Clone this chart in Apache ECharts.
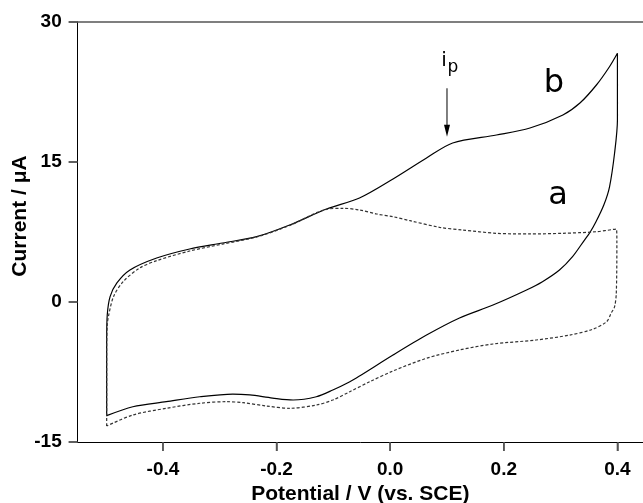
<!DOCTYPE html>
<html>
<head>
<meta charset="UTF-8">
<title>Cyclic voltammogram</title>
<script src="https://cdn.jsdelivr.net/npm/echarts@6/dist/echarts.min.js"></script>
<style>
    html, body { margin: 0; padding: 0; background: #fff; }
    #chart { width: 643px; height: 503px; }
</style>
</head>
<body>
<div id="chart"></div>
<script>
    // tick values
    var xTicks = [-0.4, -0.2, 0.0, 0.2, 0.4];
    var yTicks = [-15, 0, 15, 30];

    // curve b (solid): potential / current, one closed loop
    var potentialB = [-0.499, -0.499, -0.498, -0.493, -0.481, -0.458, -0.411, -0.353, -0.295, -0.235,
        -0.177, -0.112, -0.054, 0.005, 0.064, 0.110, 0.187, 0.246, 0.304, 0.334, 0.363, 0.386, 0.400,
        0.400, 0.395, 0.386, 0.376, 0.362, 0.351, 0.342, 0.321, 0.298, 0.268, 0.240, 0.181, 0.122, 0.064, 0.005,
        -0.054, -0.071, -0.101, -0.130, -0.171, -0.207, -0.247, -0.277, -0.335, -0.394, -0.453, -0.499];
    var currentB = [-12.18, -4.07, -1.39, 0.57, 2.04, 3.43, 4.71, 5.68, 6.32, 7.00,
        8.25, 9.96, 11.14, 13.18, 15.43, 17.04, 17.89, 18.64, 20.04, 21.32, 23.25, 25.21, 26.65,
        19.5, 15.96, 12.32, 10.39, 8.57, 7.39, 6.64, 4.86, 3.43, 2.18, 1.29, -0.32, -1.71, -3.54, -5.68,
        -7.93, -8.54, -9.43, -10.15, -10.50, -10.29, -9.96, -9.86, -10.15, -10.68, -11.22, -12.18];

    // curve a (dashed)
    var potentialA = [-0.499, -0.499, -0.498, -0.496, -0.487, -0.470, -0.441, -0.411, -0.353, -0.295,
        -0.235, -0.177, -0.112, -0.083, -0.054, -0.024, 0.005, 0.035, 0.087, 0.128, 0.187, 0.246,
        0.304, 0.363, 0.398, 0.399, 0.398, 0.395, 0.389, 0.381, 0.356, 0.316, 0.257, 0.181, 0.122,
        0.064, 0.005, -0.036, -0.071, -0.101, -0.130, -0.177, -0.218, -0.259, -0.288, -0.335, -0.394,
        -0.453, -0.499];
    var currentA = [-13.29, -5.14, -2.46, -1.57, 0.57, 2.18, 3.64, 4.43, 5.46, 6.21,
        6.96, 8.20, 9.93, 10.04, 9.86, 9.43, 9.14, 8.71, 8.00, 7.71, 7.36, 7.29,
        7.36, 7.53, 7.82, 6.64, 0.96, -0.50, -1.18, -2.11, -2.93, -3.54, -4.07, -4.50, -5.14,
        -6.03, -7.39, -8.54, -9.61, -10.50, -11.04, -11.39, -11.14, -10.79, -10.68, -10.85, -11.39,
        -12.11, -13.29];

    // ip arrow (data coords)
    var arrowFrom = [0.1, 22.9];
    var arrowTo = [0.1, 17.7];

    function pairs(xs, ys) {
        var out = [];
        for (var i = 0; i < xs.length; i++) out.push([xs[i], ys[i]]);
        return out;
    }

    var labelFont = { fontFamily: 'Liberation Sans, Arial, sans-serif', fontWeight: 'bold', fontSize: 19, color: '#000' };

    var chart = echarts.init(document.getElementById('chart'), null, { renderer: 'canvas' });

    var option = {
        animation: false,
        backgroundColor: '#fff',
        grid: { left: 77.7, right: 0, top: 22, bottom: 61, containLabel: false, outerBoundsMode: 'none' },
        xAxis: [{
            type: 'value',
            min: -0.55,
            max: 0.445,
            name: 'Potential / V (vs. SCE)',
            nameLocation: 'middle',
            nameGap: 42,
            nameTextStyle: { fontFamily: 'Liberation Sans, Arial, sans-serif', fontWeight: 'bold', fontSize: 21, color: '#000' },
            splitLine: { show: false },
            axisLine: { onZero: false, lineStyle: { color: '#000', width: 1 } },
            axisTick: { show: true, customValues: xTicks, length: 9, lineStyle: { color: '#555', width: 1.5 } },
            axisLabel: Object.assign({
                customValues: xTicks,
                margin: 18,
                formatter: function (v) { return v.toFixed(1); }
            }, labelFont)
        }, {
            type: 'value',
            position: 'top',
            min: -0.55,
            max: 0.445,
            splitLine: { show: false },
            axisLine: { onZero: false, lineStyle: { color: '#555', width: 1.5 } },
            axisTick: { show: false },
            axisLabel: { show: false }
        }],
        yAxis: {
            type: 'value',
            min: -15,
            max: 30,
            interval: 15,
            splitLine: { show: false },
            axisLine: { show: true, onZero: false, lineStyle: { color: '#000', width: 1 } },
            axisTick: { show: true, length: 9, lineStyle: { color: '#555', width: 1.5 } },
            axisLabel: Object.assign({ margin: 16 }, labelFont)
        },
        series: [{
            name: 'b',
            type: 'line',
            data: pairs(potentialB, currentB),
            showSymbol: false,
            smooth: 0.3,
            lineStyle: { color: '#000', width: 1.2 }
        }, {
            name: 'a',
            type: 'line',
            data: pairs(potentialA, currentA),
            showSymbol: false,
            smooth: 0.3,
            lineStyle: { color: '#333', width: 1.2, type: [3, 2] }
        }]
    };

    chart.setOption(option);

    // annotations
    var p0 = chart.convertToPixel({ gridIndex: 0 }, arrowFrom);
    var p1 = chart.convertToPixel({ gridIndex: 0 }, arrowTo);
    var letterFont = 'DejaVu Sans, sans-serif';

    // tick marks drawn explicitly at the tick values so they always show
    var tickMarks = [];
    xTicks.forEach(function (v) {
        var p = chart.convertToPixel({ xAxisIndex: 0 }, v);
        var y0 = chart.convertToPixel({ yAxisIndex: 0 }, yTicks[0]);
        tickMarks.push({ type: 'line', shape: { x1: p, y1: y0, x2: p, y2: y0 + 9 }, style: { stroke: '#555', lineWidth: 1.5 } });
    });
    yTicks.forEach(function (v) {
        var p = chart.convertToPixel({ yAxisIndex: 0 }, v);
        var x0 = chart.convertToPixel({ xAxisIndex: 0 }, -0.55);
        tickMarks.push({ type: 'line', shape: { x1: x0 - 9, y1: p, x2: x0, y2: p }, style: { stroke: '#555', lineWidth: 1.5 } });
    });

    chart.setOption({
        graphic: tickMarks.concat([
            {
                type: 'text', x: 20, y: 216, rotation: Math.PI / 2,
                style: { text: 'Current / \u03bcA', font: 'bold 21px Liberation Sans, Arial, sans-serif', fill: '#000', align: 'center', verticalAlign: 'middle' }
            },
            { type: 'line', shape: { x1: p0[0], y1: p0[1], x2: p1[0], y2: p1[1] - 10 }, style: { stroke: '#000', lineWidth: 1 } },
            { type: 'polygon', shape: { points: [[p1[0] - 3, p1[1] - 12], [p1[0] + 3, p1[1] - 12], [p1[0], p1[1]]] }, style: { fill: '#000' } },
            { type: 'text', x: 444, y: 60.7, style: { text: 'i', font: '20px ' + letterFont, fill: '#000', align: 'center', verticalAlign: 'middle' } },
            { type: 'text', x: 453, y: 67.6, style: { text: 'p', font: '17px ' + letterFont, fill: '#000', align: 'center', verticalAlign: 'middle' } },
            { type: 'text', x: 554, y: 83.4, style: { text: 'b', font: '32px ' + letterFont, fill: '#000', align: 'center', verticalAlign: 'middle' } },
            { type: 'text', x: 558, y: 195.4, style: { text: 'a', font: '32px ' + letterFont, fill: '#000', align: 'center', verticalAlign: 'middle' } }
        ])
    });
</script>
</body>
</html>
